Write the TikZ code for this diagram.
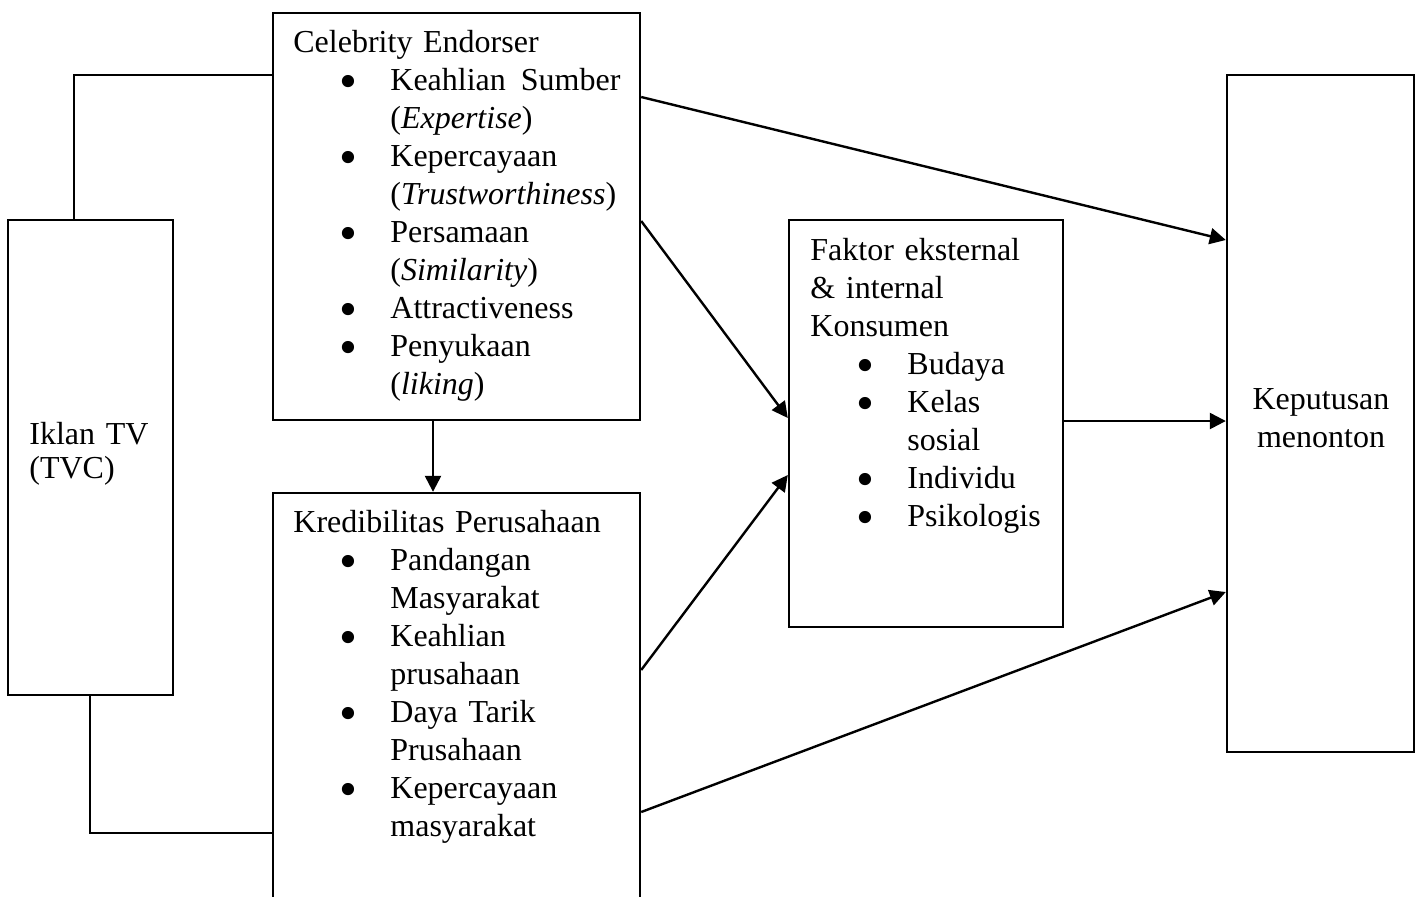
\documentclass[tikz,border=0pt]{standalone}
\usepackage{fontspec}
\setmainfont{Liberation Serif}
\usetikzlibrary{arrows.meta}

% bullet item and continuation indent inside the list boxes
\newcommand{\bul}{\hspace*{27.5pt}\makebox[0pt]{\smash{\raisebox{-4.2pt}{\scalebox{1.6}{\textbullet}}}}\hspace*{21pt}}
\newcommand{\ind}{\hspace*{48.5pt}}

\begin{document}
\begin{tikzpicture}[x=0.5pt,y=-0.5pt,
  box/.style={draw,line width=1.2pt,inner sep=0pt,fill=none},
  txt/.style={inner sep=0pt,align=left,anchor=base west,
              font=\fontsize{16}{19}\selectfont},
  link/.style={draw,line width=1.2pt},
  arr/.style={draw,line width=1.2pt,-{Triangle[length=8pt,width=8pt]}}]

\clip (0,0) rectangle (1422,896);
\fill[white] (0,0) rectangle (1422,896);

% boxes
\node[box,minimum width=82.5pt,minimum height=237.5pt] (iklan) at (90.5,457.5) {};
\node[box,minimum width=183.5pt,minimum height=203.5pt] (celeb) at (456.5,216.5) {};
\node[box,minimum width=183.5pt,minimum height=208.5pt] (kred) at (456.5,701.5) {};
\node[box,minimum width=137pt,minimum height=203.5pt] (faktor) at (926,423.5) {};
\node[box,minimum width=93.5pt,minimum height=338.5pt] (kep) at (1320.5,413.5) {};

% texts
\node[txt,text width=70pt,font=\fontsize{16}{17}\selectfont] (iklantxt) at (29,444)
  {Iklan TV\\(TVC)};

\node[txt,text width=175pt] (celebtxt) at (293,52) {%
Celebrity Endorser\\
\bul\hbox to 115pt{Keahlian\hfill Sumber}\\
\ind(\textit{Expertise})\\
\bul Kepercayaan\\
\ind(\textit{Trustworthiness})\\
\bul Persamaan\\
\ind(\textit{Similarity})\\
\bul Attractiveness\\
\bul Penyukaan\\
\ind(\textit{liking})};

\node[txt,text width=175pt] (kredtxt) at (293,532) {%
Kredibilitas Perusahaan\\
\bul Pandangan\\
\ind Masyarakat\\
\bul Keahlian\\
\ind prusahaan\\
\bul Daya Tarik\\
\ind Prusahaan\\
\bul Kepercayaan\\
\ind masyarakat};

\node[txt,text width=130pt] (faktortxt) at (810,260) {%
Faktor eksternal\\
\& internal\\
Konsumen\\
\bul Budaya\\
\bul Kelas\\
\ind sosial\\
\bul Individu\\
\bul Psikologis};

\node[txt,anchor=base,align=center,text width=85pt] (keptxt) at (1321,409)
  {Keputusan\\menonton};

% plain connectors from the TV advert box
\draw[link] (iklan.north -| 74,0) |- (celeb.west |- 0,75);
\draw[link] (iklan.south -| 90,0) |- (kred.west |- 0,833);

% arrows
\draw[arr] (celeb.south -| 433,0) -- (kred.north -| 433,0);
\draw[arr] (celeb.east |- 0,97) -- (kep.west |- 0,240);
\draw[arr] (celeb.east |- 0,221) -- (faktor.west |- 0,418);
\draw[arr] (kred.east |- 0,670) -- (faktor.west |- 0,475);
\draw[arr] (faktor.east |- 0,421) -- (kep.west |- 0,421);
\draw[arr] (kred.east |- 0,812) -- (kep.west |- 0,592);

\end{tikzpicture}
\end{document}
